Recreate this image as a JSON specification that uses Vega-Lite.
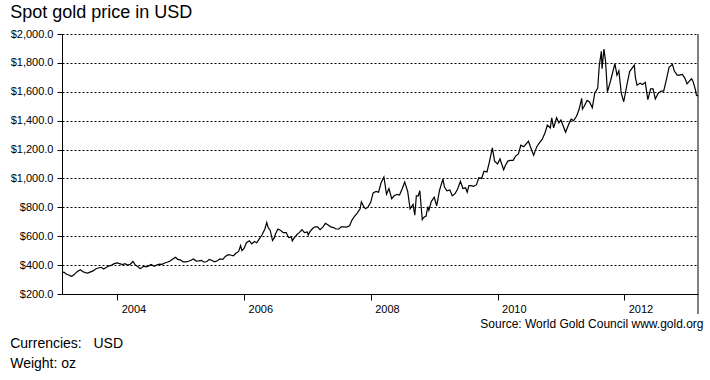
{
  "$schema": "https://vega.github.io/schema/vega-lite/v6.json",
  "background": "white",
  "padding": {"left": 10, "top": 4, "right": 5, "bottom": 5},
  "title": {"text": ["Currencies:\u00a0\u00a0\u00a0USD", "Weight: oz"], "orient": "bottom", "anchor": "start", "frame": "bounds", "fontSize": 14, "fontWeight": "normal", "font": "Liberation Sans", "color": "black", "lineHeight": 20, "offset": 8},
  "vconcat": [
    {
      "title": {"text": "Spot gold price in USD", "anchor": "start", "frame": "bounds", "fontSize": 18, "fontWeight": "normal", "font": "Liberation Sans", "color": "black", "offset": 6},
      "width": 636,
      "height": 260,
      "resolve": {"axis": {"y": "independent"}},
      "layer": [
        {
          "data": {"values": [
            {"date":"2003-02-17","price":352},{"date":"2003-03-01","price":350},{"date":"2003-03-15","price":337},{"date":"2003-04-01","price":330},{"date":"2003-04-10","price":323},{"date":"2003-04-20","price":327},{"date":"2003-05-01","price":338},{"date":"2003-05-15","price":355},{"date":"2003-06-03","price":368},{"date":"2003-06-15","price":356},{"date":"2003-07-01","price":348},{"date":"2003-07-15","price":345},{"date":"2003-08-01","price":353},{"date":"2003-08-15","price":360},{"date":"2003-09-01","price":375},{"date":"2003-09-15","price":380},{"date":"2003-10-01","price":385},{"date":"2003-10-15","price":373},{"date":"2003-11-01","price":385},{"date":"2003-11-15","price":395},{"date":"2003-12-01","price":400},{"date":"2003-12-15","price":410},
            {"date":"2004-01-01","price":415},{"date":"2004-01-15","price":410},{"date":"2004-02-01","price":404},{"date":"2004-02-15","price":410},{"date":"2004-03-01","price":400},{"date":"2004-03-15","price":405},{"date":"2004-04-01","price":425},{"date":"2004-04-15","price":400},{"date":"2004-05-01","price":388},{"date":"2004-05-12","price":376},{"date":"2004-05-22","price":382},{"date":"2004-06-01","price":393},{"date":"2004-06-15","price":388},{"date":"2004-07-01","price":395},{"date":"2004-07-15","price":405},{"date":"2004-08-01","price":392},{"date":"2004-08-15","price":400},{"date":"2004-09-01","price":407},{"date":"2004-09-15","price":405},{"date":"2004-10-01","price":415},{"date":"2004-10-15","price":420},{"date":"2004-11-01","price":428},{"date":"2004-11-15","price":440},{"date":"2004-12-01","price":454},{"date":"2004-12-15","price":440},
            {"date":"2005-01-01","price":435},{"date":"2005-01-15","price":422},{"date":"2005-02-01","price":422},{"date":"2005-02-15","price":427},{"date":"2005-03-01","price":434},{"date":"2005-03-15","price":443},{"date":"2005-04-01","price":428},{"date":"2005-04-15","price":429},{"date":"2005-05-01","price":433},{"date":"2005-05-15","price":420},{"date":"2005-06-01","price":425},{"date":"2005-06-15","price":440},{"date":"2005-07-01","price":432},{"date":"2005-07-15","price":423},{"date":"2005-08-01","price":430},{"date":"2005-08-15","price":443},{"date":"2005-09-01","price":440},{"date":"2005-09-15","price":460},{"date":"2005-10-01","price":472},{"date":"2005-10-15","price":470},{"date":"2005-11-01","price":465},{"date":"2005-11-15","price":482},{"date":"2005-12-01","price":495},{"date":"2005-12-12","price":535},{"date":"2005-12-20","price":500},
            {"date":"2006-01-01","price":515},{"date":"2006-01-15","price":555},{"date":"2006-02-01","price":568},{"date":"2006-02-15","price":547},{"date":"2006-03-01","price":563},{"date":"2006-03-15","price":555},{"date":"2006-04-01","price":585},{"date":"2006-04-15","price":610},{"date":"2006-05-01","price":650},{"date":"2006-05-12","price":695},{"date":"2006-05-20","price":660},{"date":"2006-06-01","price":640},{"date":"2006-06-14","price":570},{"date":"2006-06-25","price":590},{"date":"2006-07-01","price":615},{"date":"2006-07-15","price":650},{"date":"2006-08-01","price":640},{"date":"2006-08-15","price":625},{"date":"2006-09-01","price":625},{"date":"2006-09-15","price":590},{"date":"2006-10-01","price":595},{"date":"2006-10-06","price":568},{"date":"2006-10-15","price":585},{"date":"2006-11-01","price":610},{"date":"2006-11-15","price":625},{"date":"2006-12-01","price":645},{"date":"2006-12-15","price":625},
            {"date":"2007-01-01","price":630},{"date":"2007-01-06","price":608},{"date":"2007-01-15","price":630},{"date":"2007-02-01","price":655},{"date":"2007-02-15","price":665},{"date":"2007-03-01","price":665},{"date":"2007-03-15","price":645},{"date":"2007-04-01","price":665},{"date":"2007-04-15","price":690},{"date":"2007-05-01","price":678},{"date":"2007-05-15","price":665},{"date":"2007-06-01","price":660},{"date":"2007-06-15","price":650},{"date":"2007-07-01","price":650},{"date":"2007-07-15","price":665},{"date":"2007-08-01","price":665},{"date":"2007-08-15","price":663},{"date":"2007-09-01","price":672},{"date":"2007-09-15","price":712},{"date":"2007-10-01","price":740},{"date":"2007-10-15","price":760},{"date":"2007-11-01","price":790},{"date":"2007-11-08","price":838},{"date":"2007-11-20","price":810},{"date":"2007-12-01","price":790},{"date":"2007-12-15","price":800},
            {"date":"2008-01-01","price":835},{"date":"2008-01-15","price":900},{"date":"2008-02-01","price":910},{"date":"2008-02-15","price":905},{"date":"2008-03-01","price":970},{"date":"2008-03-17","price":1010},{"date":"2008-04-01","price":890},{"date":"2008-04-15","price":930},{"date":"2008-05-01","price":860},{"date":"2008-05-15","price":880},{"date":"2008-06-01","price":890},{"date":"2008-06-15","price":885},{"date":"2008-07-01","price":930},{"date":"2008-07-15","price":975},{"date":"2008-08-01","price":910},{"date":"2008-08-15","price":790},{"date":"2008-09-01","price":820},{"date":"2008-09-11","price":745},{"date":"2008-09-20","price":880},{"date":"2008-10-01","price":880},{"date":"2008-10-10","price":915},{"date":"2008-10-24","price":715},{"date":"2008-11-01","price":730},{"date":"2008-11-15","price":740},{"date":"2008-11-25","price":805},{"date":"2008-12-01","price":780},{"date":"2008-12-15","price":840},
            {"date":"2009-01-01","price":870},{"date":"2009-01-15","price":810},{"date":"2009-02-01","price":920},{"date":"2009-02-20","price":995},{"date":"2009-03-01","price":940},{"date":"2009-03-15","price":915},{"date":"2009-04-01","price":920},{"date":"2009-04-15","price":880},{"date":"2009-05-01","price":895},{"date":"2009-05-15","price":925},{"date":"2009-06-01","price":980},{"date":"2009-06-15","price":930},{"date":"2009-07-01","price":935},{"date":"2009-07-10","price":905},{"date":"2009-07-20","price":950},{"date":"2009-08-01","price":950},{"date":"2009-08-15","price":945},{"date":"2009-09-01","price":955},{"date":"2009-09-15","price":1005},{"date":"2009-10-01","price":1000},{"date":"2009-10-15","price":1050},{"date":"2009-11-01","price":1045},{"date":"2009-11-15","price":1115},{"date":"2009-12-02","price":1212},{"date":"2009-12-15","price":1120},
            {"date":"2010-01-01","price":1100},{"date":"2010-01-15","price":1135},{"date":"2010-02-05","price":1060},{"date":"2010-02-15","price":1090},{"date":"2010-03-01","price":1120},{"date":"2010-03-15","price":1125},{"date":"2010-04-01","price":1125},{"date":"2010-04-15","price":1155},{"date":"2010-05-01","price":1170},{"date":"2010-05-15","price":1230},{"date":"2010-06-01","price":1220},{"date":"2010-06-28","price":1258},{"date":"2010-07-15","price":1200},{"date":"2010-07-28","price":1160},{"date":"2010-08-15","price":1220},{"date":"2010-09-01","price":1250},{"date":"2010-09-15","price":1270},{"date":"2010-10-01","price":1315},{"date":"2010-10-15","price":1370},{"date":"2010-11-01","price":1350},{"date":"2010-11-09","price":1420},{"date":"2010-11-20","price":1350},{"date":"2010-12-07","price":1420},{"date":"2010-12-20","price":1385},
            {"date":"2011-01-01","price":1405},{"date":"2011-01-28","price":1320},{"date":"2011-02-15","price":1375},{"date":"2011-03-01","price":1410},{"date":"2011-03-15","price":1400},{"date":"2011-04-01","price":1430},{"date":"2011-04-15","price":1475},{"date":"2011-05-01","price":1555},{"date":"2011-05-05","price":1480},{"date":"2011-05-15","price":1500},{"date":"2011-06-01","price":1540},{"date":"2011-06-15","price":1530},{"date":"2011-07-01","price":1490},{"date":"2011-07-15","price":1590},{"date":"2011-08-01","price":1625},{"date":"2011-08-10","price":1780},{"date":"2011-08-22","price":1880},{"date":"2011-08-26","price":1760},{"date":"2011-09-06","price":1895},{"date":"2011-09-15","price":1815},{"date":"2011-09-26","price":1600},{"date":"2011-10-01","price":1620},{"date":"2011-10-15","price":1680},{"date":"2011-11-08","price":1795},{"date":"2011-11-20","price":1715},{"date":"2011-12-01","price":1745},{"date":"2011-12-15","price":1590},{"date":"2011-12-29","price":1531},
            {"date":"2012-01-15","price":1640},{"date":"2012-02-01","price":1740},{"date":"2012-02-28","price":1785},{"date":"2012-03-05","price":1700},{"date":"2012-03-15","price":1645},{"date":"2012-04-01","price":1660},{"date":"2012-04-15","price":1650},{"date":"2012-05-01","price":1665},{"date":"2012-05-16","price":1545},{"date":"2012-06-01","price":1620},{"date":"2012-06-15","price":1620},{"date":"2012-06-28","price":1550},{"date":"2012-07-15","price":1590},{"date":"2012-08-01","price":1605},{"date":"2012-08-15","price":1605},{"date":"2012-09-01","price":1690},{"date":"2012-09-15","price":1770},{"date":"2012-10-05","price":1790},{"date":"2012-10-15","price":1745},{"date":"2012-11-01","price":1715},{"date":"2012-11-15","price":1715},{"date":"2012-12-01","price":1720},{"date":"2012-12-15","price":1695},{"date":"2012-12-28","price":1655},
            {"date":"2013-01-15","price":1680},{"date":"2013-01-23","price":1690},{"date":"2013-02-01","price":1670},{"date":"2013-02-15","price":1610},{"date":"2013-02-20","price":1575},{"date":"2013-03-01","price":1572}
          ]},
          "mark": {"type": "line", "color": "black", "strokeWidth": 1.2},
          "encoding": {
            "x": {
              "field": "date", "type": "temporal",
              "scale": {"domain": [{"year": 2003, "month": 2, "date": 17}, {"year": 2013, "month": 3, "date": 1}], "nice": false},
              "axis": {
                "values": [{"year": 2004}, {"year": 2006}, {"year": 2008}, {"year": 2010}, {"year": 2012}],
                "format": "%Y", "grid": false, "labelAlign": "left", "labelOffset": 4,
                "tickSize": 6, "labelPadding": 3, "labelFontSize": 11,
                "title": "Source: World Gold Council www.gold.org",
                "titleAnchor": "end", "titleAlign": "right", "titleX": 641, "titleFontSize": 12, "titleFontWeight": "normal", "titlePadding": 4
              }
            },
            "y": {
              "field": "price", "type": "quantitative",
              "scale": {"domain": [200, 2000], "nice": false, "zero": false},
              "axis": {
                "orient": "left",
                "values": [200, 400, 600, 800, 1000, 1200, 1400, 1600, 1800, 2000],
                "format": "$,.1f", "title": null, "grid": true, "labelOverlap": false,
                "gridDash": [2, 2], "gridColor": "black", "gridOpacity": 1, "gridWidth": 1,
                "tickSize": 5, "labelPadding": 4, "labelFontSize": 11
              }
            }
          }
        },
        {
          "data": {"values": [{}]},
          "mark": {"type": "rule", "color": "black", "strokeWidth": 1},
          "encoding": {
            "x": {"datum": {"year": 2013, "month": 3, "date": 1}, "type": "temporal"},
            "y": {"datum": 2000, "type": "quantitative", "axis": {"orient": "right", "labels": false, "ticks": false, "grid": false, "domain": false, "title": null}},
            "y2": {"datum": 62}
          }
        }
      ]
    }
  ],
  "config": {
    "view": {"stroke": null},
    "font": "Liberation Sans",
    "axis": {
      "domainColor": "black", "tickColor": "black", "labelColor": "black", "titleColor": "black",
      "labelFont": "Liberation Sans", "titleFont": "Liberation Sans", "domainWidth": 1, "tickWidth": 1
    }
  }
}
